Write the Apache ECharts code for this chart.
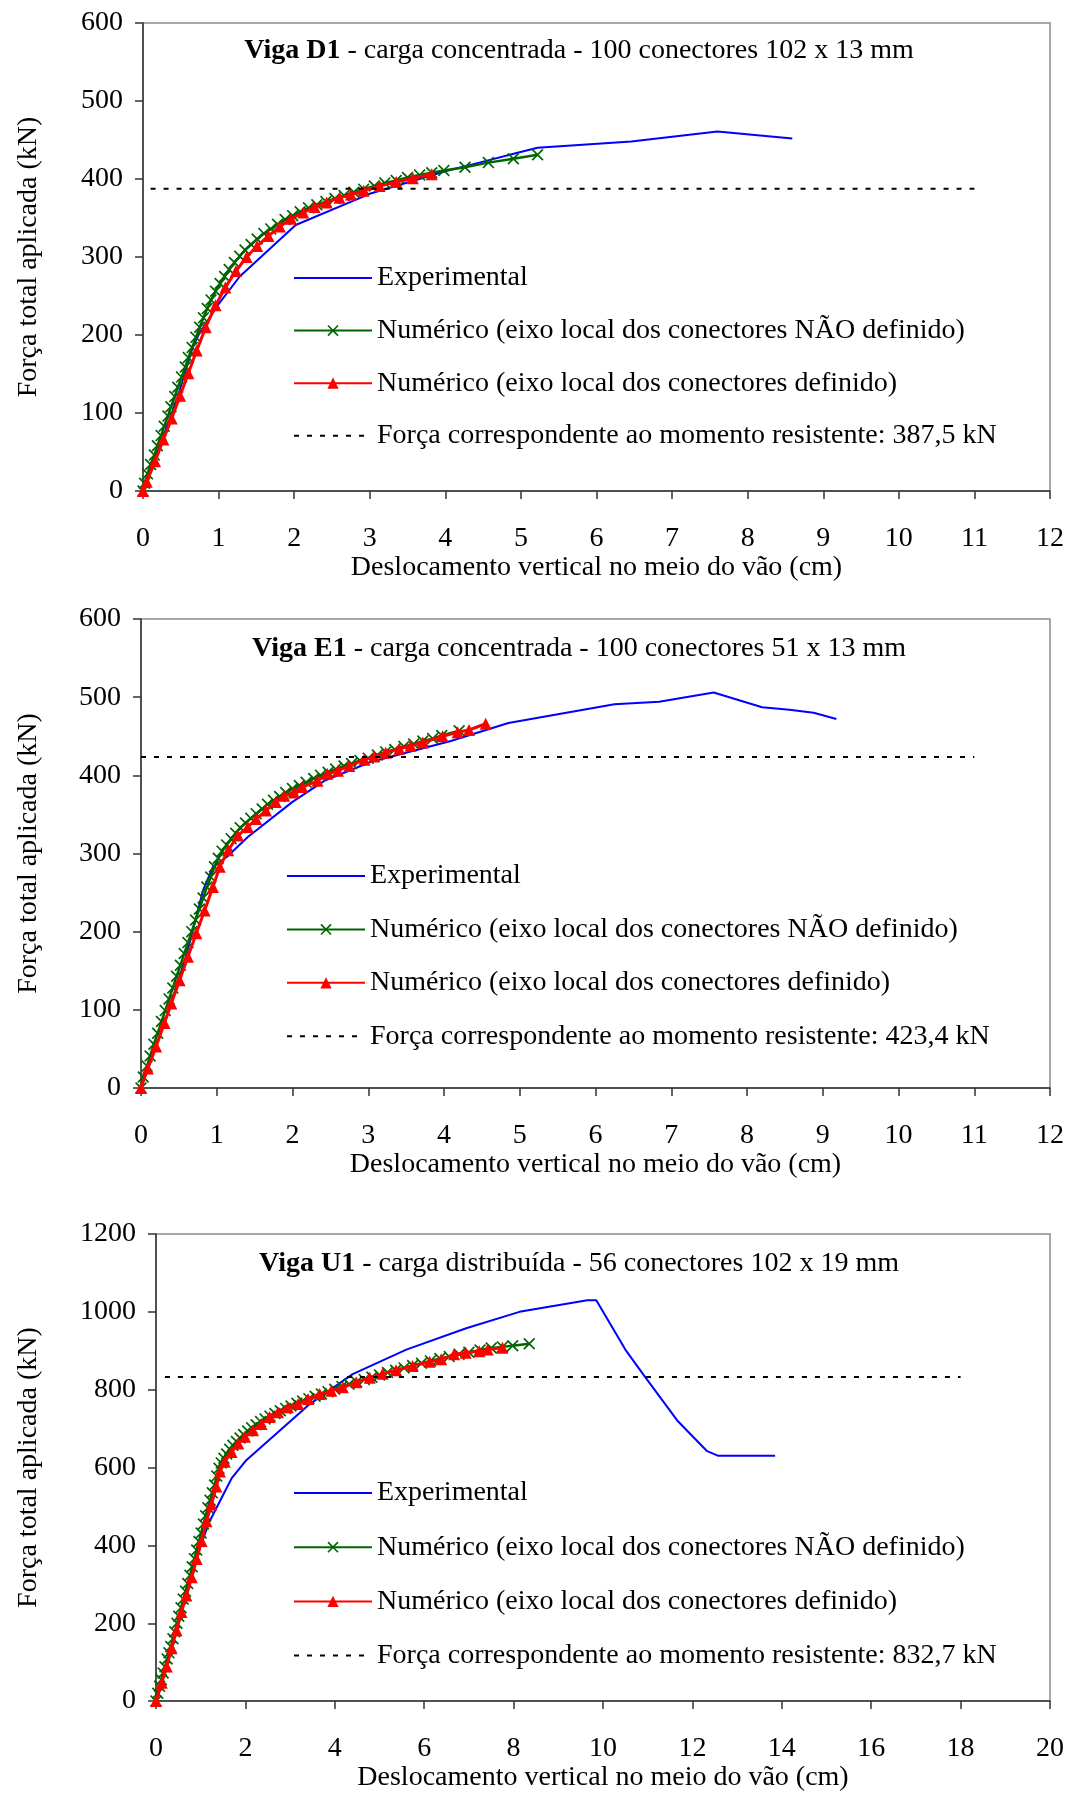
<!DOCTYPE html>
<html><head><meta charset="utf-8">
<script src="https://cdn.jsdelivr.net/npm/echarts@6/dist/echarts.min.js"></script>
<style>html,body{margin:0;padding:0;background:#fff}#c{width:1077px;height:1793px}</style>
</head><body><div id="c"></div>
<script>
// ---------- tick ranges ----------
const xTicksDE = [0,1,2,3,4,5,6,7,8,9,10,11,12];
const yTicksDE = [0,100,200,300,400,500,600];
const xTicksU = [0,2,4,6,8,10,12,14,16,18,20];
const yTicksU = [0,200,400,600,800,1000,1200];

// ---------- names ----------
const nameExp = 'Experimental';
const nameNao = 'Numérico (eixo local dos conectores NÃO definido)';
const nameDef = 'Numérico (eixo local dos conectores definido)';
const nameLimD1 = 'Força correspondente ao momento resistente: 387,5 kN';
const nameLimE1 = 'Força correspondente ao momento resistente: 423,4 kN';
const nameLimU1 = 'Força correspondente ao momento resistente: 832,7 kN';
const titleD1 = ['Viga D1', ' - carga concentrada - 100 conectores 102 x 13 mm'];
const titleE1 = ['Viga E1', ' - carga concentrada - 100 conectores 51 x 13 mm'];
const titleU1 = ['Viga U1', ' - carga distribuída - 56 conectores 102 x 19 mm'];
const xName = 'Deslocamento vertical no meio do vão (cm)';
const yName = 'Força total aplicada (kN)';

// ---------- Viga D1 ----------
const expD1 = [[0,0],[0.2,52],[0.45,118],[0.66,185],[0.75,203],[1.01,241],[1.28,275],[2.02,341],[3.0,381],[4.0,410],[4.45,421],[4.93,433],[5.22,440],[6.46,448],[7.6,461],[8.59,452]];
const naoD1 = [[0,0],[0.02,10],[0.06,22],[0.1,34],[0.15,46],[0.19,58],[0.24,71],[0.28,83],[0.33,96],[0.37,108],[0.42,121],[0.46,133],[0.51,146],[0.56,159],[0.6,171],[0.65,184],[0.7,197],[0.75,210],[0.8,222],[0.85,234],[0.9,245],[0.96,256],[1.02,266],[1.08,275],[1.14,284],[1.21,293],[1.28,301],[1.35,309],[1.43,316],[1.51,323],[1.6,330],[1.69,336],[1.78,342],[1.88,348],[1.98,353],[2.08,358],[2.19,363],[2.3,367],[2.42,371],[2.54,375],[2.66,379],[2.79,383],[2.92,387],[3.06,391],[3.2,395],[3.35,398],[3.5,402],[3.66,405],[3.82,408],[3.98,411],[4.26,415],[4.57,421],[4.9,426],[5.22,431]];
const defD1 = [[0,0],[0.05,12],[0.16,38],[0.27,66],[0.38,93],[0.49,122],[0.6,151],[0.71,180],[0.83,210],[0.96,238],[1.09,261],[1.23,282],[1.37,300],[1.51,314],[1.66,327],[1.81,339],[1.96,349],[2.12,357],[2.27,364],[2.43,370],[2.6,376],[2.75,380],[2.92,385],[3.13,391],[3.35,396],[3.57,401],[3.82,406]];
const limD1 = [[0.1,387.5],[11,387.5]];

// ---------- Viga E1 ----------
const expE1 = [[0,0],[0.35,95],[0.6,170],[0.82,253],[0.95,283],[1.15,297],[1.41,321],[2.0,366],[2.42,393],[3.03,417],[4.09,444],[4.85,467],[6.25,491],[6.84,494],[7.56,506],[8.2,487],[8.56,484],[8.88,480],[9.18,472]];
const naoE1 = [[0,0],[0.03,14],[0.08,28],[0.12,41],[0.17,56],[0.22,70],[0.27,85],[0.32,99],[0.37,114],[0.42,128],[0.47,143],[0.52,157],[0.57,172],[0.62,186],[0.67,200],[0.72,215],[0.77,229],[0.82,243],[0.87,257],[0.92,270],[0.97,283],[1.02,294],[1.07,303],[1.13,311],[1.19,319],[1.25,326],[1.31,333],[1.38,339],[1.45,345],[1.52,351],[1.6,357],[1.67,363],[1.75,368],[1.83,373],[1.91,378],[2.0,383],[2.09,387],[2.18,391],[2.28,396],[2.37,400],[2.47,404],[2.57,408],[2.68,412],[2.78,415],[2.89,419],[3.0,422],[3.12,426],[3.23,430],[3.35,433],[3.47,437],[3.6,440],[3.72,444],[3.85,447],[3.97,451],[4.2,457]];
const defE1 = [[0,0],[0.09,25],[0.2,53],[0.31,83],[0.4,108],[0.51,138],[0.62,168],[0.73,198],[0.84,227],[0.95,257],[1.04,283],[1.15,304],[1.28,323],[1.41,334],[1.52,344],[1.65,355],[1.78,366],[1.89,374],[2.02,378],[2.13,385],[2.33,393],[2.46,402],[2.6,406],[2.75,412],[2.95,420],[3.08,424],[3.23,429],[3.41,434],[3.56,438],[3.72,442],[3.98,450],[4.18,455],[4.33,458],[4.55,466]];
const limE1 = [[0,423.4],[11,423.4]];

// ---------- Viga U1 ----------
const expU1 = [[0,0],[0.35,135],[0.68,280],[1.0,400],[1.2,462],[1.69,572],[2.02,619],[3.44,763],[4.4,840],[5.6,903],[6.94,958],[8.13,1000],[9.65,1030],[9.85,1030],[10.5,903],[10.92,836],[11.66,721],[12.33,642],[12.58,630],[13.85,630]];
const naoU1 = [[0,0],[0.04,20],[0.08,38],[0.12,55],[0.16,72],[0.2,88],[0.25,108],[0.29,124],[0.33,140],[0.38,160],[0.42,178],[0.47,200],[0.51,218],[0.56,240],[0.61,262],[0.66,282],[0.71,302],[0.76,323],[0.81,345],[0.86,366],[0.91,388],[0.96,410],[1.01,432],[1.06,455],[1.11,476],[1.16,497],[1.21,516],[1.26,535],[1.31,555],[1.36,578],[1.41,598],[1.46,612],[1.52,624],[1.58,635],[1.65,647],[1.72,657],[1.8,667],[1.88,676],[1.96,685],[2.05,694],[2.14,702],[2.24,710],[2.34,718],[2.44,725],[2.55,732],[2.66,739],[2.78,746],[2.9,752],[3.02,758],[3.15,765],[3.28,771],[3.42,777],[3.56,783],[3.7,789],[3.85,795],[4.0,801],[4.16,808],[4.32,814],[4.49,820],[4.66,826],[4.83,832],[5.0,838],[5.18,844],[5.36,850],[5.55,856],[5.74,862],[5.94,868],[6.14,874],[6.35,880],[6.56,885],[6.78,891],[7.0,896],[7.25,902],[7.5,907],[7.75,910],[7.98,913],[8.35,918]];
const defU1 = [[0,0],[0.13,47],[0.24,89],[0.35,136],[0.46,182],[0.57,229],[0.68,271],[0.8,318],[0.91,365],[1.02,411],[1.13,462],[1.24,505],[1.35,551],[1.43,590],[1.54,615],[1.69,640],[1.84,662],[1.99,679],[2.17,696],[2.36,712],[2.54,730],[2.73,742],[2.95,755],[3.18,763],[3.4,776],[3.66,789],[3.92,797],[4.18,806],[4.48,819],[4.78,831],[5.07,841],[5.37,850],[5.74,861],[6.12,872],[6.38,878],[6.67,891],[6.93,895],[7.23,899],[7.42,903],[7.75,908]];
const limU1 = [[0.2,832.7],[18,832.7]];

// ---------- build ----------
const FONT = 'Liberation Serif';
const FS = 28;
const xMark = 'path://M0,1L1,0L5,4L9,0L10,1L6,5L10,9L9,10L5,6L1,10L0,9L4,5Z';

const panels = [
  {grid:{left:143, top:23, width:907, height:468}, xt:xTicksDE, yt:yTicksDE, exp:expD1, nao:naoD1, def:defD1, lim:limD1, limName:nameLimD1, title:titleD1, titleY:37, legendTop:263, legendGap:22.6, legendLeft:293, yGap:100},
  {grid:{left:141, top:619, width:909, height:469}, xt:xTicksDE, yt:yTicksDE, exp:expE1, nao:naoE1, def:defE1, lim:limE1, limName:nameLimE1, title:titleE1, titleY:635, legendTop:861, legendGap:23.4, legendLeft:286, yGap:98},
  {grid:{left:156, top:1234, width:894, height:472}, xt:xTicksU, yt:yTicksU, exp:expU1, nao:naoU1, def:defU1, lim:limU1, limName:nameLimU1, title:titleU1, titleY:1250, legendTop:1478, legendGap:24.2, legendLeft:293, yGap:113}
];

const option = {animation:false, backgroundColor:'#fff', grid:[], xAxis:[], yAxis:[], series:[], title:[], legend:[]};
const axisCommon = {
  axisLine:{show:true, onZero:false, lineStyle:{color:'#333', width:1.5}},
  axisTick:{show:true, inside:false, length:8, lineStyle:{color:'#333', width:1.5}},
  splitLine:{show:false},
  nameTextStyle:{fontFamily:FONT, fontSize:FS, color:'#000'}
};
const lbl = (m) => ({fontFamily:FONT, fontSize:FS, color:'#000', margin:m, formatter:(v) => String(v)});
panels.forEach((p, i) => {
  option.grid.push(Object.assign({show:true, borderColor:'#8c8c8c', borderWidth:1.5, containLabel:false}, p.grid));
  option.xAxis.push(Object.assign({}, axisCommon, {
    type:'value', gridIndex:i, min:p.xt[0], max:p.xt[p.xt.length-1], interval:p.xt[1]-p.xt[0],
    name:xName, nameLocation:'middle', nameGap:61, axisLabel:lbl(34)
  }));
  option.yAxis.push(Object.assign({}, axisCommon, {
    type:'value', gridIndex:i, min:p.yt[0], max:p.yt[p.yt.length-1], interval:p.yt[1]-p.yt[0],
    name:yName, nameLocation:'middle', nameGap:p.yGap, nameRotate:90, axisLabel:lbl(20)
  }));
  option.series.push(
    {name:nameExp, type:'line', xAxisIndex:i, yAxisIndex:i, data:p.exp, showSymbol:false, symbol:'none',
     lineStyle:{color:'#0000ff', width:2}, itemStyle:{color:'#0000ff'}, z:2},
    {name:nameNao, type:'line', xAxisIndex:i, yAxisIndex:i, data:p.nao, symbol:xMark, symbolSize:12, showAllSymbol:true,
     lineStyle:{color:'#006400', width:2.5}, itemStyle:{color:'#006400'}, z:3},
    {name:nameDef, type:'line', xAxisIndex:i, yAxisIndex:i, data:p.def, symbol:'triangle', symbolSize:12, showAllSymbol:true,
     lineStyle:{color:'#ff0000', width:3}, itemStyle:{color:'#ff0000'}, z:4},
    {name:p.limName, type:'line', xAxisIndex:i, yAxisIndex:i, data:p.lim, showSymbol:false, symbol:'none',
     lineStyle:{color:'#000', width:2, type:[5,8]}, itemStyle:{color:'#000'}, z:5}
  );
  option.title.push({
    text:'{b|' + p.title[0] + '}' + p.title[1],
    left:579, top:p.titleY, textAlign:'center', padding:0,
    textStyle:{fontFamily:FONT, fontSize:FS, fontWeight:'normal', color:'#000',
      rich:{b:{fontFamily:FONT, fontSize:FS, fontWeight:'bold', color:'#000'}}}
  });
  option.legend.push({
    orient:'vertical', left:p.legendLeft, top:p.legendTop, padding:0, itemGap:p.legendGap,
    itemWidth:78, itemHeight:14, selectedMode:false,
    textStyle:{fontFamily:FONT, fontSize:FS, color:'#000', lineHeight:30},
    data:[
      {name:nameExp, itemStyle:{opacity:0}},
      nameNao,
      nameDef,
      {name:p.limName, itemStyle:{opacity:0}}
    ]
  });
});

const chart = echarts.init(document.getElementById('c'), null, {renderer:'canvas'});
chart.setOption(option);
</script></body></html>
